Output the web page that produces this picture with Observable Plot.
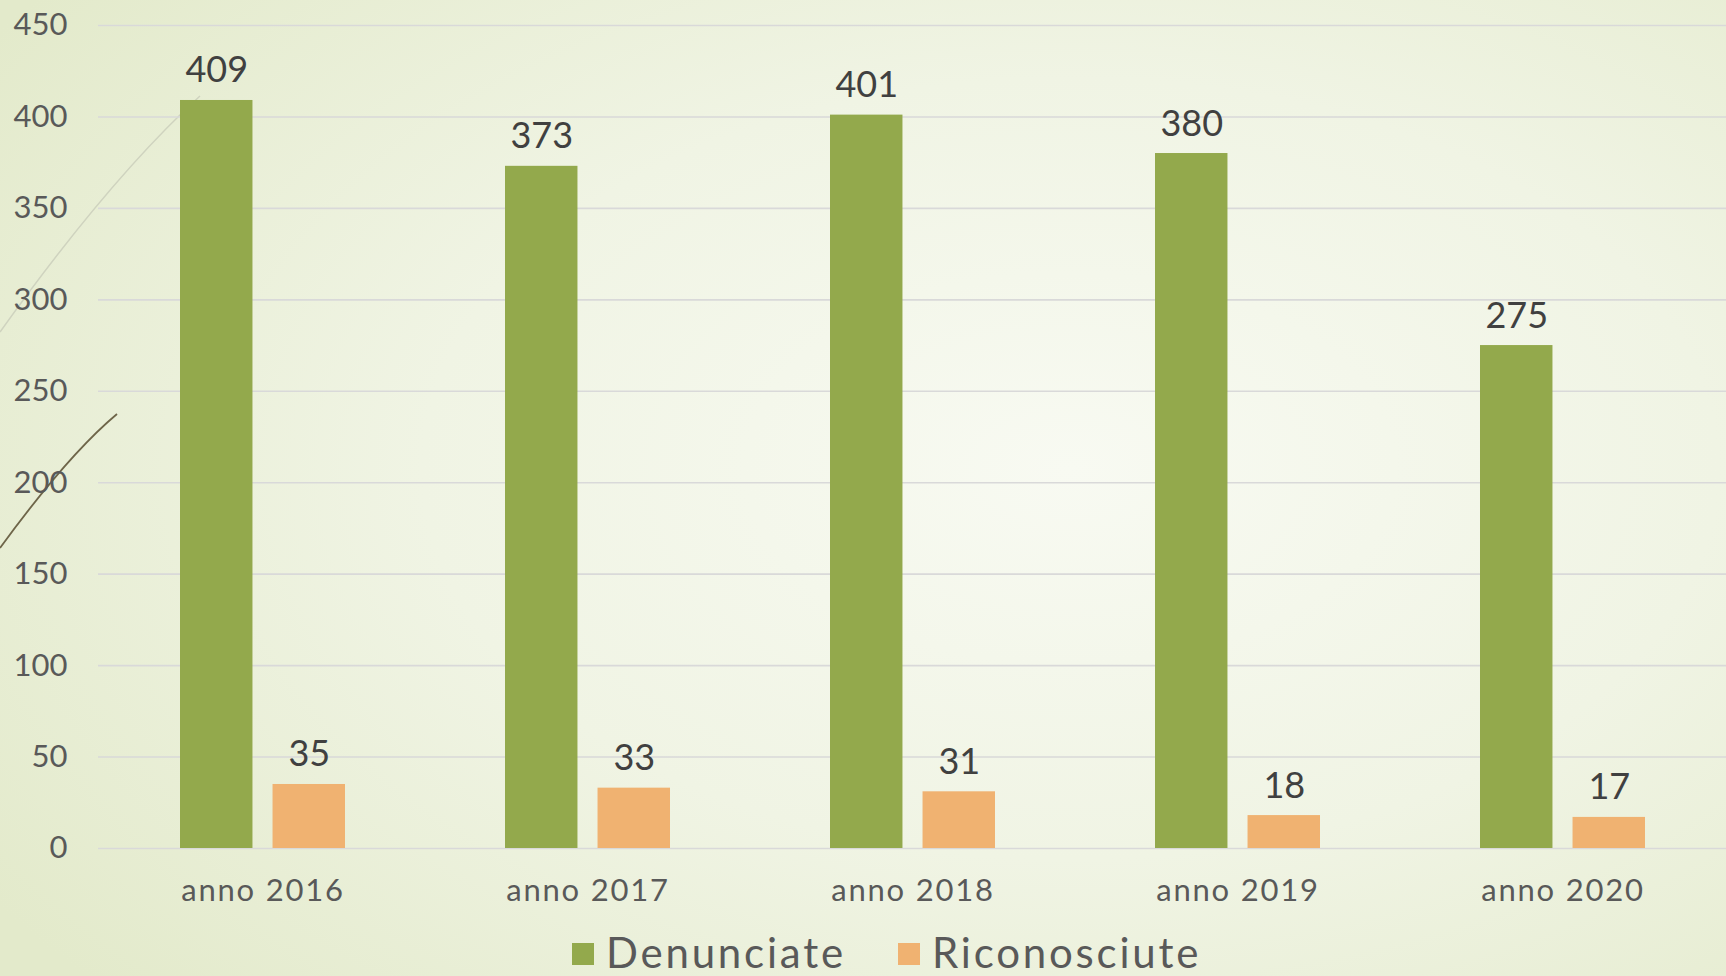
<!DOCTYPE html>
<html>
<head>
<meta charset="utf-8">
<script src="https://cdn.jsdelivr.net/npm/d3@7"></script>
<script src="https://cdn.jsdelivr.net/npm/@observablehq/plot@0.6"></script>
<style>
  html, body { margin: 0; padding: 0; }
  body {
    width: 1726px; height: 976px; overflow: hidden; position: relative;
    background: radial-gradient(ellipse 75% 80% at 62% 48%, #f8faf2 0%, #f0f4e4 50%, #e3eacb 100%);
    font-family: "Century Gothic", "Lato", "DejaVu Sans", sans-serif;
  }
  #deco { position: absolute; left: 0; top: 0; pointer-events: none; }
  #chart { position: absolute; left: 0; top: 0; }
  #chart g[aria-label="x-axis tick label"] text { letter-spacing: 1.8px; }
  #legend {
    position: absolute; left: 0; top: 920px; width: 1726px; height: 56px;
    display: flex; align-items: center; padding-left: 572px; box-sizing: border-box;
    padding-top: 8px;
    font-size: 42px; color: #595959; line-height: 46px; letter-spacing: 2.8px;
  }
  .item { display: flex; align-items: center; margin-right: 52px; }
  .sw { width: 22px; height: 22px; margin-right: 12px; margin-top: 4px; }
</style>
</head>
<body>
<svg id="deco" width="1726" height="976">
  <path d="M0,332 C60,248 130,160 200,96" fill="none" stroke="#cfd3bf" stroke-width="1.5"/>
  <path d="M0,548 C35,500 80,445 117,414" fill="none" stroke="#6e6549" stroke-width="1.8"/>
</svg>
<div id="chart"></div>
<div id="legend"></div>
<script>
const years = ["anno 2016", "anno 2017", "anno 2018", "anno 2019", "anno 2020"];
const seriesNames = ["Denunciate", "Riconosciute"];
const denunciate = [409, 373, 401, 380, 275];
const riconosciute = [35, 33, 31, 18, 17];
const yTicks = [0, 50, 100, 150, 200, 250, 300, 350, 400, 450];
const colors = ["#93a94c", "#f0b271"];

const W = 1726, ML = 98, MR = 0;
const padIn = 0.493, padOut = padIn / 2;
const step = (W - ML - MR) / (years.length - padIn + 2 * padOut);
const band = step * (1 - padIn);      // width of a year group
const gap = 20;                        // gap between the two bars
const barW = (band - gap) / 2;
const inset = band - barW;             // inset to keep a bar in its half

const denData = years.map((yr, i) => ({year: yr, series: seriesNames[0], value: denunciate[i]}));
const ricData = years.map((yr, i) => ({year: yr, series: seriesNames[1], value: riconosciute[i]}));

const font = '"Century Gothic", "Lato", "DejaVu Sans", sans-serif';

const plot = Plot.plot({
  width: W,
  height: 920,
  marginLeft: ML,
  marginRight: MR,
  marginTop: 25,
  marginBottom: 72,
  style: {background: "transparent", fontFamily: font, overflow: "visible"},
  x: {domain: years, paddingInner: padIn, paddingOuter: padOut, label: null},
  y: {domain: [0, 450], axis: null},
  color: {domain: seriesNames, range: colors},
  marks: [
    Plot.ruleY(yTicks, {y: d => d, stroke: "#d9d9d9", strokeWidth: 1.6}),
    Plot.text(yTicks, {y: d => d, text: d => String(d), frameAnchor: "left", textAnchor: "end",
      dx: -31, fontSize: 31, fill: "#595959"}),
    Plot.barY(denData, {x: "year", y: "value", fill: "series", insetRight: inset}),
    Plot.barY(ricData, {x: "year", y: "value", fill: "series", insetLeft: inset}),
    Plot.text(denData, {x: "year", y: "value", text: d => String(d.value),
      lineAnchor: "bottom", dx: -(gap + barW) / 2, dy: -18, fontSize: 36, fill: "#404040"}),
    Plot.text(ricData, {x: "year", y: "value", text: d => String(d.value),
      lineAnchor: "bottom", dx: (gap + barW) / 2, dy: -18, fontSize: 36, fill: "#404040"}),
    Plot.axisX({anchor: "bottom", tickSize: 0, tickPadding: 30, fontSize: 31, label: null,
      color: "#595959"})
  ]
});
document.getElementById("chart").appendChild(plot);

const legend = document.getElementById("legend");
const cs = plot.scale("color");
seriesNames.forEach(s => {
  const it = document.createElement("div");
  it.className = "item";
  const sw = document.createElement("div");
  sw.className = "sw";
  sw.style.background = cs.apply(s);
  const t = document.createElement("span");
  t.textContent = s;
  it.appendChild(sw); it.appendChild(t);
  legend.appendChild(it);
});
</script>
</body>
</html>
